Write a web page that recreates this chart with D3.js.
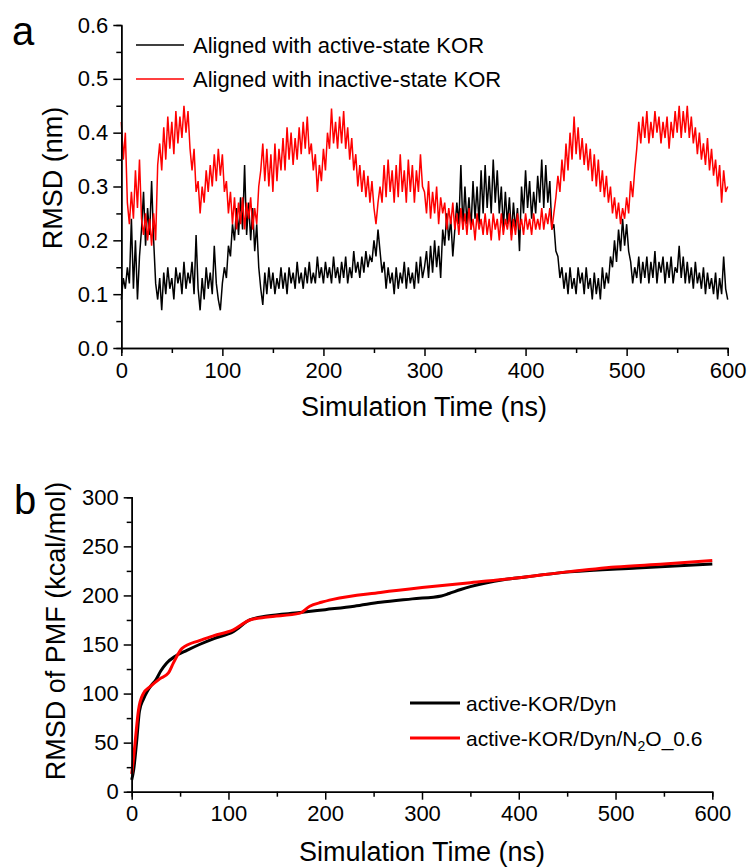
<!DOCTYPE html>
<html>
<head>
<meta charset="utf-8">
<script src="https://cdn.jsdelivr.net/npm/d3@7"></script>
<style>
  body { margin: 0; background: #fff; }
  svg { font-family: "Liberation Sans", Arial, sans-serif; }
  .axis path, .axis line { stroke: #000; stroke-width: 1.5; }
  .axis text { font-size: 22px; fill: #000; font-family: "Liberation Sans", Arial, sans-serif; }
</style>
</head>
<body>
<svg width="749" height="868"></svg>
<script>
// panel a: RMSD sampled every 2 ns, 0..600 ns
const stepA = 2;
const activeRmsd = [
  0.09, 0.13, 0.11, 0.15, 0.12, 0.24, 0.11, 0.20, 0.09, 0.17,
  0.22, 0.29, 0.19, 0.26, 0.21, 0.31, 0.20, 0.12, 0.09, 0.13,
  0.07, 0.14, 0.10, 0.15, 0.11, 0.13, 0.09, 0.15, 0.12, 0.14,
  0.10, 0.16, 0.11, 0.14, 0.12, 0.16, 0.10, 0.21, 0.11, 0.07,
  0.13, 0.09, 0.15, 0.11, 0.14, 0.10, 0.19, 0.12, 0.09, 0.07,
  0.12, 0.15, 0.13, 0.19, 0.17, 0.23, 0.20, 0.26, 0.21, 0.28,
  0.22, 0.34, 0.21, 0.27, 0.20, 0.26, 0.18, 0.23, 0.15, 0.11,
  0.08, 0.14, 0.10, 0.15, 0.11, 0.14, 0.10, 0.13, 0.11, 0.15,
  0.11, 0.14, 0.10, 0.15, 0.12, 0.14, 0.11, 0.16, 0.12, 0.14,
  0.11, 0.15, 0.12, 0.16, 0.12, 0.14, 0.12, 0.17, 0.13, 0.15,
  0.12, 0.16, 0.13, 0.15, 0.12, 0.17, 0.13, 0.15, 0.12, 0.16,
  0.13, 0.17, 0.12, 0.15, 0.13, 0.18, 0.14, 0.16, 0.13, 0.17,
  0.14, 0.18, 0.15, 0.17, 0.16, 0.20, 0.17, 0.22, 0.18, 0.14,
  0.16, 0.11, 0.15, 0.12, 0.14, 0.10, 0.15, 0.11, 0.14, 0.12,
  0.16, 0.11, 0.15, 0.12, 0.14, 0.11, 0.16, 0.12, 0.17, 0.13,
  0.15, 0.18, 0.13, 0.19, 0.14, 0.20, 0.15, 0.19, 0.13, 0.22,
  0.19, 0.25, 0.20, 0.24, 0.17, 0.22, 0.27, 0.23, 0.34, 0.22,
  0.30, 0.23, 0.28, 0.22, 0.31, 0.24, 0.30, 0.23, 0.33, 0.25,
  0.34, 0.26, 0.32, 0.25, 0.35, 0.27, 0.33, 0.25, 0.30, 0.22,
  0.29, 0.23, 0.28, 0.21, 0.27, 0.22, 0.26, 0.18, 0.30, 0.25,
  0.33, 0.26, 0.31, 0.24, 0.29, 0.25, 0.32, 0.27, 0.35, 0.26,
  0.34, 0.27, 0.31, 0.22, 0.23, 0.18, 0.17, 0.13, 0.15, 0.11,
  0.14, 0.10, 0.15, 0.11, 0.13, 0.10, 0.15, 0.12, 0.14, 0.10,
  0.15, 0.11, 0.13, 0.09, 0.14, 0.10, 0.13, 0.09, 0.15, 0.11,
  0.14, 0.12, 0.17, 0.15, 0.20, 0.16, 0.22, 0.18, 0.24, 0.19,
  0.23, 0.18, 0.16, 0.12, 0.15, 0.13, 0.17, 0.12, 0.16, 0.13,
  0.17, 0.12, 0.16, 0.13, 0.18, 0.12, 0.16, 0.14, 0.17, 0.12,
  0.16, 0.13, 0.17, 0.12, 0.15, 0.14, 0.19, 0.13, 0.17, 0.12,
  0.16, 0.12, 0.15, 0.11, 0.16, 0.12, 0.14, 0.11, 0.15, 0.10,
  0.14, 0.11, 0.13, 0.10, 0.14, 0.09, 0.13, 0.10, 0.17, 0.11,
  0.09
];
const inactiveRmsd = [
  0.42, 0.35, 0.40, 0.27, 0.23, 0.29, 0.24, 0.33, 0.26, 0.35,
  0.24, 0.21, 0.25, 0.20, 0.24, 0.19, 0.25, 0.20, 0.34, 0.38,
  0.33, 0.41, 0.35, 0.43, 0.37, 0.42, 0.36, 0.44, 0.38, 0.43,
  0.39, 0.45, 0.40, 0.44, 0.37, 0.33, 0.37, 0.29, 0.31, 0.25,
  0.30, 0.27, 0.33, 0.29, 0.34, 0.30, 0.36, 0.31, 0.37, 0.32,
  0.36, 0.29, 0.31, 0.25, 0.29, 0.23, 0.28, 0.22, 0.27, 0.23,
  0.28, 0.22, 0.27, 0.24, 0.28, 0.22, 0.26, 0.23, 0.30, 0.33,
  0.38, 0.31, 0.37, 0.30, 0.36, 0.29, 0.38, 0.31, 0.37, 0.33,
  0.39, 0.33, 0.41, 0.35, 0.40, 0.34, 0.39, 0.35, 0.41, 0.36,
  0.42, 0.37, 0.43, 0.36, 0.38, 0.33, 0.36, 0.29, 0.34, 0.31,
  0.37, 0.33, 0.40, 0.37, 0.445, 0.38, 0.42, 0.37, 0.43, 0.38,
  0.44, 0.37, 0.41, 0.35, 0.39, 0.33, 0.36, 0.30, 0.34, 0.29,
  0.33, 0.28, 0.32, 0.27, 0.31, 0.26, 0.23, 0.27, 0.30, 0.27,
  0.34, 0.28, 0.35, 0.29, 0.33, 0.27, 0.34, 0.28, 0.36, 0.29,
  0.33, 0.27, 0.35, 0.29, 0.34, 0.27, 0.33, 0.29, 0.36, 0.30,
  0.29, 0.25, 0.31, 0.24, 0.29, 0.25, 0.30, 0.23, 0.28, 0.25,
  0.27, 0.22, 0.26, 0.23, 0.27, 0.22, 0.25, 0.21, 0.26, 0.22,
  0.25, 0.21, 0.26, 0.22, 0.24, 0.20, 0.25, 0.22, 0.24, 0.21,
  0.25, 0.21, 0.24, 0.20, 0.25, 0.22, 0.24, 0.20, 0.25, 0.21,
  0.24, 0.22, 0.25, 0.20, 0.24, 0.21, 0.25, 0.22, 0.24, 0.21,
  0.25, 0.22, 0.24, 0.21, 0.25, 0.22, 0.24, 0.22, 0.26, 0.22,
  0.25, 0.23, 0.26, 0.22, 0.25, 0.28, 0.32, 0.29, 0.35, 0.31,
  0.38, 0.33, 0.40, 0.35, 0.43, 0.36, 0.41, 0.35, 0.39, 0.34,
  0.38, 0.33, 0.37, 0.31, 0.36, 0.30, 0.35, 0.29, 0.33, 0.28,
  0.32, 0.27, 0.30, 0.25, 0.28, 0.24, 0.27, 0.23, 0.26, 0.24,
  0.28, 0.25, 0.31, 0.28, 0.33, 0.37, 0.42, 0.38, 0.43, 0.39,
  0.44, 0.38, 0.42, 0.39, 0.44, 0.40, 0.43, 0.38, 0.42, 0.39,
  0.43, 0.37, 0.42, 0.39, 0.44, 0.40, 0.45, 0.39, 0.44, 0.40,
  0.45, 0.39, 0.43, 0.38, 0.41, 0.36, 0.40, 0.35, 0.38, 0.34,
  0.39, 0.33, 0.37, 0.32, 0.35, 0.30, 0.34, 0.27, 0.33, 0.29,
  0.30
];

// panel b: RMSD of PMF
const dynTime = [0, 2, 5, 8, 12, 16, 20, 25, 30, 36, 45, 57, 70, 85, 105, 122, 140, 174, 200, 230, 257, 290, 320, 328, 340, 350, 384, 400, 453, 522, 600];
const dynPmf  = [12, 22, 50, 82, 94, 102, 108, 114, 123, 131, 138, 144, 150, 156, 163, 175, 179, 182.5, 185.5, 189, 193, 196.5, 199.5, 202, 206, 209, 216, 218, 224, 228, 232];
const n2oTime = [0, 2, 4, 7, 12, 19, 29, 38, 43, 52, 70, 85, 105, 122, 140, 174, 184, 196, 208, 257, 300, 350, 400, 450, 500, 550, 600];
const n2oPmf  = [18, 35, 55, 83, 100, 107, 115, 121, 131, 146, 154, 159, 165, 175, 178, 182, 189, 193, 196, 203, 208, 213, 218, 224, 229, 232, 235.5];

const xTicks = [0, 100, 200, 300, 400, 500, 600];
const yTicksA = [0.0, 0.1, 0.2, 0.3, 0.4, 0.5, 0.6];
const yTicksB = [0, 50, 100, 150, 200, 250, 300];
const legendA = ['Aligned with active-state KOR', 'Aligned with inactive-state KOR'];

const svg = d3.select('svg');

function drawAxes(x, y, yTicks, yMinor, yFmt, xMinor) {
    svg.append('g').attr('class', 'axis')
        .attr('transform', `translate(0, ${y.range()[0]})`)
        .call(d3.axisBottom(x).tickValues(xMinor).tickSize(5).tickFormat(''));
    svg.append('g').attr('class', 'axis')
        .attr('transform', `translate(0, ${y.range()[0]})`)
        .call(d3.axisBottom(x).tickValues(xTicks).tickSize(8).tickSizeOuter(0).tickPadding(6));
    svg.append('g').attr('class', 'axis')
        .attr('transform', `translate(${x.range()[0]}, 0)`)
        .call(d3.axisLeft(y).tickValues(yMinor).tickSize(5).tickFormat(''));
    svg.append('g').attr('class', 'axis')
        .attr('transform', `translate(${x.range()[0]}, 0)`)
        .call(d3.axisLeft(y).tickValues(yTicks).tickSize(8).tickSizeOuter(0).tickPadding(5).tickFormat(yFmt));
}

// ---- panel a
const xA = d3.scaleLinear().domain([0, 600]).range([121.3, 727.7]);
const yA = d3.scaleLinear().domain([0, 0.6]).range([348, 25]);
const timesA = d3.range(0, 601, stepA);

const lineA = d3.line().x((d, i) => xA(timesA[i])).y((d) => yA(d));

svg.append('path').datum(activeRmsd)
    .attr('d', lineA).attr('fill', 'none').attr('stroke', '#000').attr('stroke-width', 1.5);
svg.append('path').datum(inactiveRmsd)
    .attr('d', lineA).attr('fill', 'none').attr('stroke', '#f00').attr('stroke-width', 1.5);

drawAxes(xA, yA, yTicksA, [0.05, 0.15, 0.25, 0.35, 0.45, 0.55], d3.format('.1f'), [50, 150, 250, 350, 450, 550]);

legendA.forEach((t, i) => {
    const ly = 45 + i * 34;
    svg.append('line').attr('x1', 136).attr('x2', 184).attr('y1', ly).attr('y2', ly)
        .attr('stroke', i ? '#f00' : '#000').attr('stroke-width', 1.3);
    svg.append('text').attr('x', 193).attr('y', ly + 8).attr('font-size', 22).text(t);
});

svg.append('text').attr('x', 12).attr('y', 45).attr('font-size', 40).text('a');
svg.append('text')
    .attr('transform', 'translate(62, 178) rotate(-90)')
    .attr('text-anchor', 'middle').attr('font-size', 27).text('RMSD (nm)');
svg.append('text').attr('x', 424).attr('y', 416)
    .attr('text-anchor', 'middle').attr('font-size', 27).text('Simulation Time (ns)');

// ---- panel b
const xB = d3.scaleLinear().domain([0, 600]).range([131.7, 712.3]);
const yB = d3.scaleLinear().domain([0, 300]).range([791.7, 497.3]);

const lineB = (ts) => d3.line().curve(d3.curveMonotoneX).x((d, i) => xB(ts[i])).y((d) => yB(d));

svg.append('path').datum(dynPmf)
    .attr('d', lineB(dynTime)).attr('fill', 'none').attr('stroke', '#000').attr('stroke-width', 3);
svg.append('path').datum(n2oPmf)
    .attr('d', lineB(n2oTime)).attr('fill', 'none').attr('stroke', '#f00').attr('stroke-width', 3);

drawAxes(xB, yB, yTicksB, [25, 75, 125, 175, 225, 275], d3.format('d'), [50, 150, 250, 350, 450, 550]);

const legB = svg.append('g');
legB.append('line').attr('x1', 410).attr('x2', 460).attr('y1', 703).attr('y2', 703)
    .attr('stroke', '#000').attr('stroke-width', 3);
legB.append('text').attr('x', 466).attr('y', 711).attr('font-size', 21).text('active-KOR/Dyn');
legB.append('line').attr('x1', 410).attr('x2', 460).attr('y1', 738).attr('y2', 738)
    .attr('stroke', '#f00').attr('stroke-width', 3);
const t2 = legB.append('text').attr('x', 466).attr('y', 746).attr('font-size', 21);
t2.append('tspan').text('active-KOR/Dyn/N');
t2.append('tspan').attr('font-size', 14).attr('dy', 5).text('2');
t2.append('tspan').attr('dy', -5).text('O_0.6');

svg.append('text').attr('x', 14).attr('y', 514).attr('font-size', 40).text('b');
svg.append('text')
    .attr('transform', 'translate(65, 631) rotate(-90)')
    .attr('text-anchor', 'middle').attr('font-size', 27).text('RMSD of PMF (kcal/mol)');
svg.append('text').attr('x', 422).attr('y', 861)
    .attr('text-anchor', 'middle').attr('font-size', 27).text('Simulation Time (ns)');
</script>
</body>
</html>
